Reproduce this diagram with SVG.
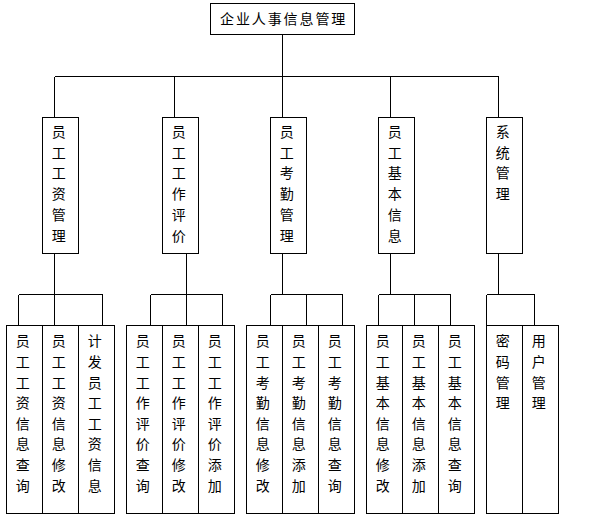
<svg xmlns="http://www.w3.org/2000/svg" width="592" height="524" viewBox="0 0 592 524">
<style>
rect{fill:#fff;stroke:#000;stroke-width:1;shape-rendering:crispEdges}
#connectors path{fill:none;stroke:#000;stroke-width:1;shape-rendering:crispEdges}
text{font-family:"Noto Sans CJK SC","Noto Sans CJK TC",sans-serif;font-size:14px;fill:#000;text-anchor:middle}
.title{text-anchor:start;letter-spacing:1.9px}
</style>
<rect x="0" y="0" width="592" height="524" style="stroke:none"/>
<g id="connectors">
<path d="M282.5 34.5V76.5M54.5 76.5H498.5M54.5 76.5V117.5M174.5 76.5V117.5M282.5 76.5V117.5M390.5 76.5V117.5M498.5 76.5V117.5"/>
<path d="M54.5 253.5V325.5M18.5 294.5H102.5M18.5 294.5V325.5M102.5 294.5V325.5"/>
<path d="M186.5 253.5V325.5M150.5 294.5H222.5M150.5 294.5V325.5M222.5 294.5V325.5"/>
<path d="M282.5 253.5V294.5M270.5 294.5H342.5M270.5 294.5V325.5M306.5 294.5V325.5M342.5 294.5V325.5"/>
<path d="M390.5 253.5V294.5M378.5 294.5H450.5M378.5 294.5V325.5M414.5 294.5V325.5M450.5 294.5V325.5"/>
<path d="M498.5 253.5V294.5M486.5 294.5H534.5M486.5 294.5V325.5M534.5 294.5V325.5"/>
</g>
<g id="root">
<rect x="210.5" y="3.5" width="144" height="31"/>
<text class="title" x="220" y="24">企业人事信息管理</text>
</g>
<g id="n1">
<rect x="42.5" y="117.5" width="36" height="136"/>
<text><tspan x="58.8" y="137">员</tspan><tspan x="58.8" y="157.7">工</tspan><tspan x="58.8" y="178.4">工</tspan><tspan x="58.8" y="199.1">资</tspan><tspan x="58.8" y="219.8">管</tspan><tspan x="58.8" y="240.5">理</tspan></text>
</g>
<g id="n2">
<rect x="162.5" y="117.5" width="36" height="136"/>
<text><tspan x="178.8" y="137">员</tspan><tspan x="178.8" y="157.7">工</tspan><tspan x="178.8" y="178.4">工</tspan><tspan x="178.8" y="199.1">作</tspan><tspan x="178.8" y="219.8">评</tspan><tspan x="178.8" y="240.5">价</tspan></text>
</g>
<g id="n3">
<rect x="270.5" y="117.5" width="36" height="136"/>
<text><tspan x="286.8" y="137">员</tspan><tspan x="286.8" y="157.7">工</tspan><tspan x="286.8" y="178.4">考</tspan><tspan x="286.8" y="199.1">勤</tspan><tspan x="286.8" y="219.8">管</tspan><tspan x="286.8" y="240.5">理</tspan></text>
</g>
<g id="n4">
<rect x="378.5" y="117.5" width="36" height="136"/>
<text><tspan x="394.8" y="137">员</tspan><tspan x="394.8" y="157.7">工</tspan><tspan x="394.8" y="178.4">基</tspan><tspan x="394.8" y="199.1">本</tspan><tspan x="394.8" y="219.8">信</tspan><tspan x="394.8" y="240.5">息</tspan></text>
</g>
<g id="n5">
<rect x="486.5" y="117.5" width="36" height="136"/>
<text><tspan x="502.8" y="137">系</tspan><tspan x="502.8" y="157.7">统</tspan><tspan x="502.8" y="178.4">管</tspan><tspan x="502.8" y="199.1">理</tspan></text>
</g>
<g id="n1a">
<rect x="6.5" y="325.5" width="36" height="188"/>
<text><tspan x="22.8" y="346.3">员</tspan><tspan x="22.8" y="366.9">工</tspan><tspan x="22.8" y="387.5">工</tspan><tspan x="22.8" y="408.1">资</tspan><tspan x="22.8" y="428.7">信</tspan><tspan x="22.8" y="449.3">息</tspan><tspan x="22.8" y="469.9">查</tspan><tspan x="22.8" y="490.5">询</tspan></text>
</g>
<g id="n1b">
<rect x="42.5" y="325.5" width="36" height="188"/>
<text><tspan x="58.8" y="346.3">员</tspan><tspan x="58.8" y="366.9">工</tspan><tspan x="58.8" y="387.5">工</tspan><tspan x="58.8" y="408.1">资</tspan><tspan x="58.8" y="428.7">信</tspan><tspan x="58.8" y="449.3">息</tspan><tspan x="58.8" y="469.9">修</tspan><tspan x="58.8" y="490.5">改</tspan></text>
</g>
<g id="n1c">
<rect x="78.5" y="325.5" width="36" height="188"/>
<text><tspan x="94.8" y="346.3">计</tspan><tspan x="94.8" y="366.9">发</tspan><tspan x="94.8" y="387.5">员</tspan><tspan x="94.8" y="408.1">工</tspan><tspan x="94.8" y="428.7">工</tspan><tspan x="94.8" y="449.3">资</tspan><tspan x="94.8" y="469.9">信</tspan><tspan x="94.8" y="490.5">息</tspan></text>
</g>
<g id="n2a">
<rect x="126.5" y="325.5" width="36" height="188"/>
<text><tspan x="142.8" y="346.3">员</tspan><tspan x="142.8" y="366.9">工</tspan><tspan x="142.8" y="387.5">工</tspan><tspan x="142.8" y="408.1">作</tspan><tspan x="142.8" y="428.7">评</tspan><tspan x="142.8" y="449.3">价</tspan><tspan x="142.8" y="469.9">查</tspan><tspan x="142.8" y="490.5">询</tspan></text>
</g>
<g id="n2b">
<rect x="162.5" y="325.5" width="36" height="188"/>
<text><tspan x="178.8" y="346.3">员</tspan><tspan x="178.8" y="366.9">工</tspan><tspan x="178.8" y="387.5">工</tspan><tspan x="178.8" y="408.1">作</tspan><tspan x="178.8" y="428.7">评</tspan><tspan x="178.8" y="449.3">价</tspan><tspan x="178.8" y="469.9">修</tspan><tspan x="178.8" y="490.5">改</tspan></text>
</g>
<g id="n2c">
<rect x="198.5" y="325.5" width="36" height="188"/>
<text><tspan x="214.8" y="346.3">员</tspan><tspan x="214.8" y="366.9">工</tspan><tspan x="214.8" y="387.5">工</tspan><tspan x="214.8" y="408.1">作</tspan><tspan x="214.8" y="428.7">评</tspan><tspan x="214.8" y="449.3">价</tspan><tspan x="214.8" y="469.9">添</tspan><tspan x="214.8" y="490.5">加</tspan></text>
</g>
<g id="n3a">
<rect x="246.5" y="325.5" width="36" height="188"/>
<text><tspan x="262.8" y="346.3">员</tspan><tspan x="262.8" y="366.9">工</tspan><tspan x="262.8" y="387.5">考</tspan><tspan x="262.8" y="408.1">勤</tspan><tspan x="262.8" y="428.7">信</tspan><tspan x="262.8" y="449.3">息</tspan><tspan x="262.8" y="469.9">修</tspan><tspan x="262.8" y="490.5">改</tspan></text>
</g>
<g id="n3b">
<rect x="282.5" y="325.5" width="36" height="188"/>
<text><tspan x="298.8" y="346.3">员</tspan><tspan x="298.8" y="366.9">工</tspan><tspan x="298.8" y="387.5">考</tspan><tspan x="298.8" y="408.1">勤</tspan><tspan x="298.8" y="428.7">信</tspan><tspan x="298.8" y="449.3">息</tspan><tspan x="298.8" y="469.9">添</tspan><tspan x="298.8" y="490.5">加</tspan></text>
</g>
<g id="n3c">
<rect x="318.5" y="325.5" width="36" height="188"/>
<text><tspan x="334.8" y="346.3">员</tspan><tspan x="334.8" y="366.9">工</tspan><tspan x="334.8" y="387.5">考</tspan><tspan x="334.8" y="408.1">勤</tspan><tspan x="334.8" y="428.7">信</tspan><tspan x="334.8" y="449.3">息</tspan><tspan x="334.8" y="469.9">查</tspan><tspan x="334.8" y="490.5">询</tspan></text>
</g>
<g id="n4a">
<rect x="366.5" y="325.5" width="36" height="188"/>
<text><tspan x="382.8" y="346.3">员</tspan><tspan x="382.8" y="366.9">工</tspan><tspan x="382.8" y="387.5">基</tspan><tspan x="382.8" y="408.1">本</tspan><tspan x="382.8" y="428.7">信</tspan><tspan x="382.8" y="449.3">息</tspan><tspan x="382.8" y="469.9">修</tspan><tspan x="382.8" y="490.5">改</tspan></text>
</g>
<g id="n4b">
<rect x="402.5" y="325.5" width="36" height="188"/>
<text><tspan x="418.8" y="346.3">员</tspan><tspan x="418.8" y="366.9">工</tspan><tspan x="418.8" y="387.5">基</tspan><tspan x="418.8" y="408.1">本</tspan><tspan x="418.8" y="428.7">信</tspan><tspan x="418.8" y="449.3">息</tspan><tspan x="418.8" y="469.9">添</tspan><tspan x="418.8" y="490.5">加</tspan></text>
</g>
<g id="n4c">
<rect x="438.5" y="325.5" width="36" height="188"/>
<text><tspan x="454.8" y="346.3">员</tspan><tspan x="454.8" y="366.9">工</tspan><tspan x="454.8" y="387.5">基</tspan><tspan x="454.8" y="408.1">本</tspan><tspan x="454.8" y="428.7">信</tspan><tspan x="454.8" y="449.3">息</tspan><tspan x="454.8" y="469.9">查</tspan><tspan x="454.8" y="490.5">询</tspan></text>
</g>
<g id="n5a">
<rect x="486.5" y="325.5" width="36" height="188"/>
<text><tspan x="502.8" y="346.3">密</tspan><tspan x="502.8" y="366.9">码</tspan><tspan x="502.8" y="387.5">管</tspan><tspan x="502.8" y="408.1">理</tspan></text>
</g>
<g id="n5b">
<rect x="522.5" y="325.5" width="36" height="188"/>
<text><tspan x="538.8" y="346.3">用</tspan><tspan x="538.8" y="366.9">户</tspan><tspan x="538.8" y="387.5">管</tspan><tspan x="538.8" y="408.1">理</tspan></text>
</g>
</svg>
